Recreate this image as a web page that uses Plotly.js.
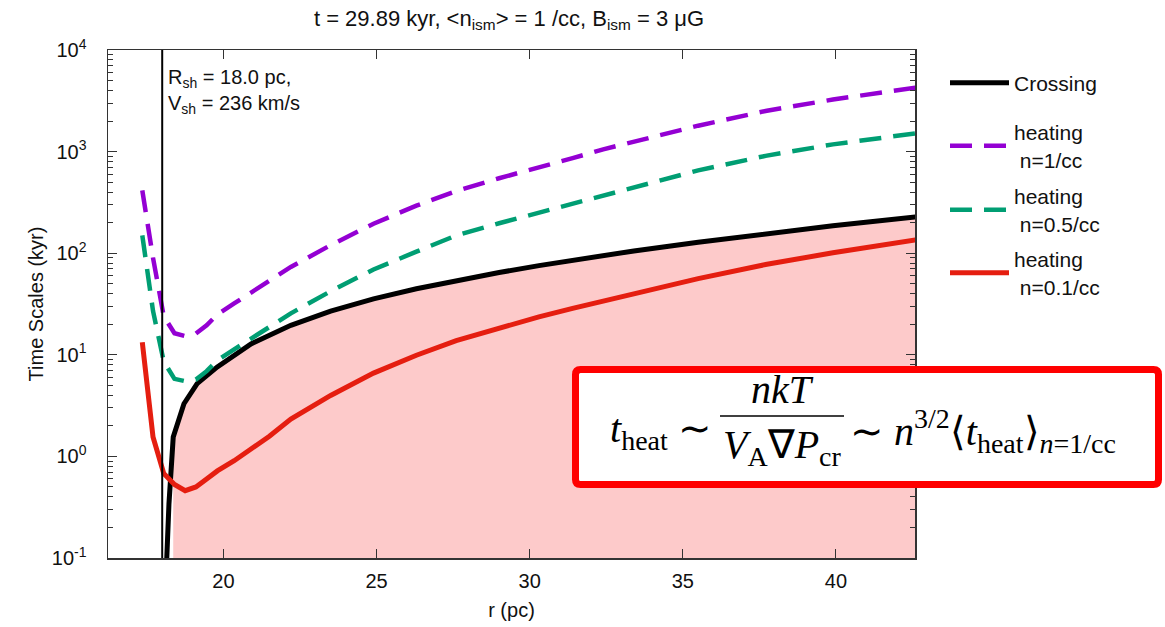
<!DOCTYPE html>
<html><head><meta charset="utf-8">
<script src="https://cdn.plot.ly/plotly-3.0.1.min.js"></script>
<style>html,body{margin:0;padding:0;background:#fff}#chart{width:1165px;height:627px}</style>
</head><body><div id="chart"></div>
<script>
// ---- data ----
const R_SHOCK = 18.0;
const V_SHOCK = 236;
const CROSS_R = [18.12, 18.22, 18.36, 18.71, 19.14, 19.80, 20.90, 22.20, 23.50, 24.90, 26.30, 27.60, 29.00, 30.30, 31.40, 32.40, 33.40, 35.50, 37.70, 39.90, 42.60];
const CROSS_T = [0.06, 0.34, 1.55, 3.3, 5.2, 7.6, 12.8, 19.5, 26.9, 35.5, 44.7, 53.7, 64.6, 75.5, 85.5, 95.1, 105.2, 128.2, 154.9, 186.2, 228];
const HEAT_R = [17.35, 17.70, 18.05, 18.40, 18.75, 19.10, 19.45, 19.80, 20.35, 20.90, 21.50, 22.20, 23.50, 24.90, 26.30, 27.60, 29.00, 30.30, 31.40, 32.40, 33.40, 35.50, 37.70, 39.90, 42.60];
const HEAT_N1  = [416, 90, 24, 16.3, 15.3, 16.2, 19.5, 25, 32, 41, 53.5, 73.3, 120, 195, 294, 409, 547, 692, 861, 1052, 1250, 1799, 2512, 3251, 4266];
const HEAT_N05 = [150, 27, 8.6, 5.8, 5.5, 5.7, 6.9, 8.8, 11.3, 14.5, 18.8, 25.6, 42.2, 69.2, 103.5, 149.6, 197, 250, 307, 373, 444, 653, 908, 1178, 1514];
const HEAT_N01 = [13.3, 1.55, 0.68, 0.53, 0.46, 0.50, 0.60, 0.72, 0.906, 1.19, 1.58, 2.33, 3.98, 6.6, 9.9, 13.8, 18.5, 23.6, 28.6, 33.9, 39.8, 56.2, 77.3, 101, 135];
const SERIES_NAMES = ['Crossing', 'heating<br>\u00a0n=1/cc', 'heating<br>\u00a0n=0.5/cc', 'heating<br>\u00a0n=0.1/cc'];
const SERIES_COLORS = ['#000000', '#9400d3', '#009e73', '#e51e10'];
const X_TICKS = [20, 25, 30, 35, 40];
const Y_TICKS = [0.1, 1, 10, 100, 1000, 10000];
const Y_TICK_TEXT = ['10<sup>-1</sup>', '10<sup>0</sup>', '10<sup>1</sup>', '10<sup>2</sup>', '10<sup>3</sup>', '10<sup>4</sup>'];
const X_RANGE = [16.23, 42.58];
const Y_RANGE_LOG = [-1, 4];
const TITLE = 't = 29.89 kyr, &lt;n<sub>ism</sub>&gt; = 1 /cc, B<sub>ism</sub> = 3 \u03bcG';

// ---- layout helpers (pixel -> paper) ----
const W = 1165, H = 627;
const M = {l: 108, r: 250, t: 50, b: 69};
const PW = W - M.l - M.r, PH = H - M.t - M.b;
const px = v => (v - M.l) / PW;
const py = v => (M.t + PH - v) / PH;

const YMIN = Math.pow(10, Y_RANGE_LOG[0]);
const fillStart = 2;
const fillX = CROSS_R.slice(fillStart).concat([CROSS_R[CROSS_R.length - 1], CROSS_R[fillStart]]);
const fillY = CROSS_T.slice(fillStart).concat([YMIN, YMIN]);

const MINOR = [];
for (let e = Y_RANGE_LOG[0]; e < Y_RANGE_LOG[1]; e++) for (let d = 2; d <= 9; d++) MINOR.push(d * Math.pow(10, e));

const SANS = 'Liberation Sans, Arial, Helvetica, sans-serif';
const SERIF = 'Liberation Serif, Times New Roman, serif';
const DASH = '22px,12px';

const traces = [
  {x: fillX, y: fillY, type: 'scatter', mode: 'lines', fill: 'toself', fillcolor: '#fdcaca',
   line: {width: 0, color: 'rgba(0,0,0,0)'}, showlegend: false, hoverinfo: 'skip'},
  {x: CROSS_R, y: CROSS_T, name: SERIES_NAMES[0], type: 'scatter', mode: 'lines', legend: 'legend',
   line: {color: SERIES_COLORS[0], width: 5}},
  {x: HEAT_R, y: HEAT_N1, name: SERIES_NAMES[1], type: 'scatter', mode: 'lines', legend: 'legend2',
   line: {color: SERIES_COLORS[1], width: 4.5, dash: DASH}},
  {x: HEAT_R, y: HEAT_N05, name: SERIES_NAMES[2], type: 'scatter', mode: 'lines', legend: 'legend3',
   line: {color: SERIES_COLORS[2], width: 4.5, dash: DASH}},
  {x: HEAT_R, y: HEAT_N01, name: SERIES_NAMES[3], type: 'scatter', mode: 'lines', legend: 'legend4',
   line: {color: SERIES_COLORS[3], width: 5}}
];

const axisCommon = {
  showline: true, linecolor: '#333', linewidth: 1.5, mirror: 'ticks',
  ticks: 'inside', tickcolor: '#333', tickwidth: 1, ticklen: 9,
  showgrid: false, zeroline: false, tickfont: {family: SANS, size: 20, color: '#111'}
};

// legend rows (pixel centre of the symbol line)
const LEG_X = 945;
const LEG_ROWS = [83, 146, 210, 273];
const legendFor = row => ({x: px(LEG_X), y: py(row), xanchor: 'left', yanchor: 'middle', bgcolor: 'rgba(0,0,0,0)',
  font: {family: SANS, size: 21, color: '#111'}, itemwidth: 59});

// rounded red frame around the formula
const BX0 = 575.5, BX1 = 1158.5, BY0 = 369.5, BY1 = 484.5, RAD = 5;
const P = (x, y) => px(x) + ',' + py(y);
const framePath = 'M' + P(BX0 + RAD, BY0) + ' L' + P(BX1 - RAD, BY0) + ' Q' + P(BX1, BY0) + ' ' + P(BX1, BY0 + RAD) +
  ' L' + P(BX1, BY1 - RAD) + ' Q' + P(BX1, BY1) + ' ' + P(BX1 - RAD, BY1) +
  ' L' + P(BX0 + RAD, BY1) + ' Q' + P(BX0, BY1) + ' ' + P(BX0, BY1 - RAD) +
  ' L' + P(BX0, BY0 + RAD) + ' Q' + P(BX0, BY0) + ' ' + P(BX0 + RAD, BY0) + ' Z';

const layout = {
  width: W, height: H, margin: M,
  paper_bgcolor: '#fff', plot_bgcolor: '#fff',
  font: {family: SANS, color: '#111'},
  title: {text: TITLE, font: {family: SANS, size: 22, color: '#111'}, x: px(509), xref: 'paper', xanchor: 'center',
          y: 1 - 18 / H, yref: 'container', yanchor: 'middle'},
  xaxis: Object.assign({}, axisCommon, {
    range: X_RANGE, tickmode: 'array', tickvals: X_TICKS, ticklabelstandoff: 4,
    title: {text: 'r (pc)', font: {family: SANS, size: 20, color: '#111'}, standoff: 12}
  }),
  yaxis: Object.assign({}, axisCommon, {
    type: 'log', range: Y_RANGE_LOG, tickmode: 'array', tickvals: Y_TICKS, ticktext: Y_TICK_TEXT,
    ticklabelstandoff: 16,
    minor: {tickmode: 'array', tickvals: MINOR, ticks: 'inside', ticklen: 5, tickcolor: '#333', tickwidth: 1, showgrid: false},
    title: {text: 'Time Scales (kyr)', font: {family: SANS, size: 20, color: '#111'}, standoff: 3}
  }),
  legend: legendFor(LEG_ROWS[0]),
  legend2: legendFor(LEG_ROWS[1]),
  legend3: legendFor(LEG_ROWS[2]),
  legend4: legendFor(LEG_ROWS[3]),
  shapes: [
    {type: 'line', xref: 'x', yref: 'paper', x0: R_SHOCK, x1: R_SHOCK, y0: 0, y1: 1, line: {color: '#000', width: 2}},
    {type: 'path', xref: 'paper', yref: 'paper', path: framePath,
     line: {color: '#ff0000', width: 7}, fillcolor: '#ffffff', layer: 'above'},
    {type: 'line', xref: 'paper', yref: 'paper', x0: px(720), x1: px(844), y0: py(416), y1: py(416),
     line: {color: '#000', width: 1.5}, layer: 'above'}
  ],
  annotations: [
    {text: 'R<sub>sh</sub> = ' + R_SHOCK.toFixed(1) + ' pc,<br>V<sub>sh</sub> = ' + V_SHOCK + ' km/s', xref: 'paper', yref: 'paper',
     x: px(166), y: py(92), xanchor: 'left', yanchor: 'middle', align: 'left', showarrow: false,
     font: {family: SANS, size: 20, color: '#111'}},
    {text: '<i>t</i><sub>heat</sub> \u223c', xref: 'paper', yref: 'paper', x: px(714), y: py(431),
     xanchor: 'right', yanchor: 'middle', showarrow: false, font: {family: SERIF, size: 40, color: '#000'}},
    {text: '<i>nkT</i>', xref: 'paper', yref: 'paper', x: px(782), y: py(390),
     xanchor: 'center', yanchor: 'middle', showarrow: false, font: {family: SERIF, size: 40, color: '#000'}},
    {text: '<i>V</i><sub>A</sub>\u2207<i>P</i><sub>cr</sub>', xref: 'paper', yref: 'paper', x: px(782), y: py(447),
     xanchor: 'center', yanchor: 'middle', showarrow: false, font: {family: SERIF, size: 40, color: '#000'}},
    {text: '\u223c <i>n</i><sup>3/2</sup>\u27e8<i>t</i><sub>heat</sub>\u27e9<sub><i>n</i>=1/cc</sub>', xref: 'paper', yref: 'paper', x: px(848), y: py(431),
     xanchor: 'left', yanchor: 'middle', showarrow: false, font: {family: SERIF, size: 40, color: '#000'}}
  ]
};

Plotly.newPlot('chart', traces, layout, {displayModeBar: false, staticPlot: true});
</script>
</body></html>
